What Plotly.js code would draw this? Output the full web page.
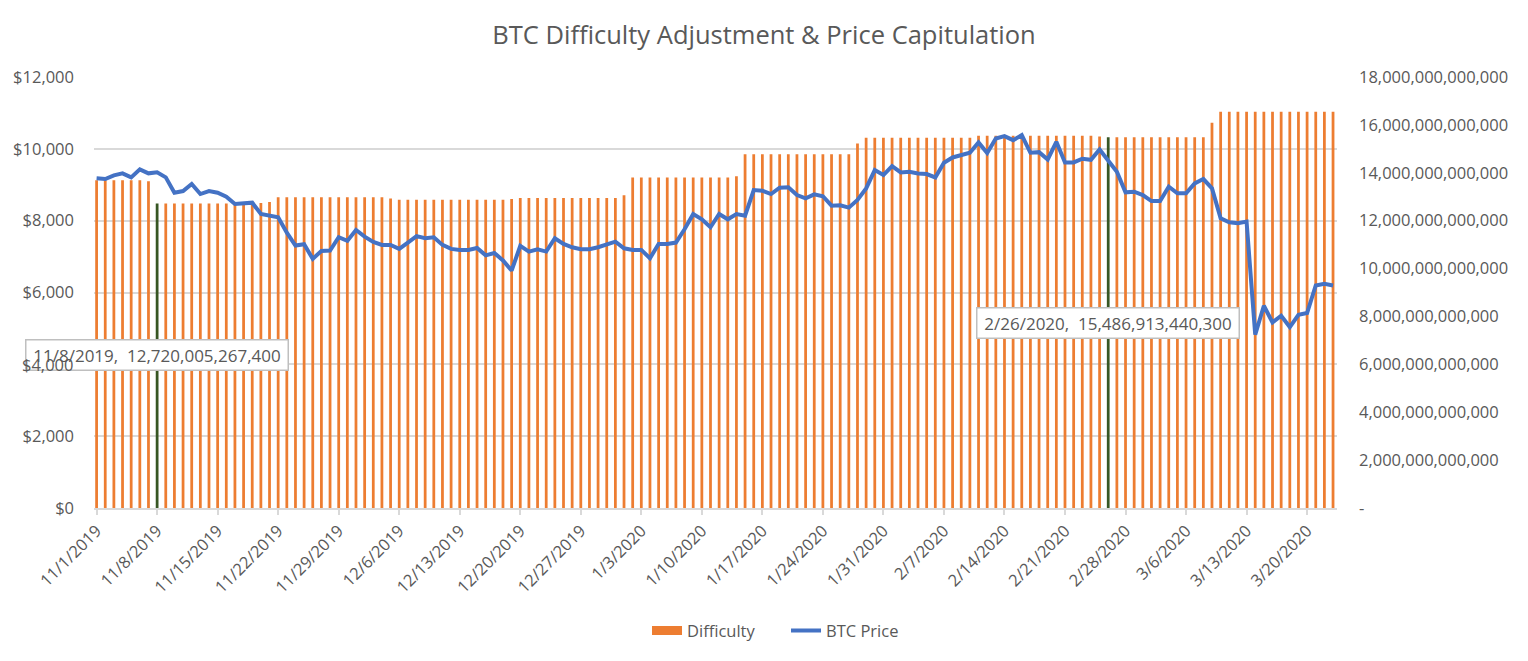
<!DOCTYPE html>
<html>
<head>
<meta charset="utf-8">
<script src="https://cdn.plot.ly/plotly-3.0.1.min.js"></script>
<style>html,body{margin:0;padding:0;background:#fff;}#chart{width:1528px;height:661px;}</style>
</head>
<body>
<div id="chart"></div>
<script>
// ---- data ----
const dates = [
'2019-11-01','2019-11-02','2019-11-03','2019-11-04','2019-11-05','2019-11-06','2019-11-07','2019-11-08','2019-11-09','2019-11-10',
'2019-11-11','2019-11-12','2019-11-13','2019-11-14','2019-11-15','2019-11-16','2019-11-17','2019-11-18','2019-11-19','2019-11-20',
'2019-11-21','2019-11-22','2019-11-23','2019-11-24','2019-11-25','2019-11-26','2019-11-27','2019-11-28','2019-11-29','2019-11-30',
'2019-12-01','2019-12-02','2019-12-03','2019-12-04','2019-12-05','2019-12-06','2019-12-07','2019-12-08','2019-12-09','2019-12-10',
'2019-12-11','2019-12-12','2019-12-13','2019-12-14','2019-12-15','2019-12-16','2019-12-17','2019-12-18','2019-12-19','2019-12-20',
'2019-12-21','2019-12-22','2019-12-23','2019-12-24','2019-12-25','2019-12-26','2019-12-27','2019-12-28','2019-12-29','2019-12-30',
'2019-12-31','2020-01-01','2020-01-02','2020-01-03','2020-01-04','2020-01-05','2020-01-06','2020-01-07','2020-01-08','2020-01-09',
'2020-01-10','2020-01-11','2020-01-12','2020-01-13','2020-01-14','2020-01-15','2020-01-16','2020-01-17','2020-01-18','2020-01-19',
'2020-01-20','2020-01-21','2020-01-22','2020-01-23','2020-01-24','2020-01-25','2020-01-26','2020-01-27','2020-01-28','2020-01-29',
'2020-01-30','2020-01-31','2020-02-01','2020-02-02','2020-02-03','2020-02-04','2020-02-05','2020-02-06','2020-02-07','2020-02-08',
'2020-02-09','2020-02-10','2020-02-11','2020-02-12','2020-02-13','2020-02-14','2020-02-15','2020-02-16','2020-02-17','2020-02-18',
'2020-02-19','2020-02-20','2020-02-21','2020-02-22','2020-02-23','2020-02-24','2020-02-25','2020-02-26','2020-02-27','2020-02-28',
'2020-02-29','2020-03-01','2020-03-02','2020-03-03','2020-03-04','2020-03-05','2020-03-06','2020-03-07','2020-03-08','2020-03-09',
'2020-03-10','2020-03-11','2020-03-12','2020-03-13','2020-03-14','2020-03-15','2020-03-16','2020-03-17','2020-03-18','2020-03-19',
'2020-03-20','2020-03-21','2020-03-22','2020-03-23'
];

const difficulty = [
13691480038694,13691480038694,13691480038694,13691480038694,13691480038694,13691480038694,13650000000000,
12720005267400,12720005267400,12720005267400,12720005267400,12720005267400,12720005267400,12720005267400,12720005267400,12720005267400,12720005267400,12720005267400,12720005267400,
12740000000000,12780000000000,
12973235968799,12973235968799,12973235968799,12973235968799,12973235968799,12973235968799,12973235968799,12973235968799,12973235968799,12973235968799,12973235968799,12973235968799,12973235968799,
12930000000000,
12876842089682,12876842089682,12876842089682,12876842089682,12876842089682,12876842089682,12876842089682,12876842089682,12876842089682,12876842089682,12876842089682,12876842089682,12876842089682,
12900000000000,
12950000000000,12950000000000,12950000000000,12950000000000,12950000000000,12950000000000,12950000000000,12950000000000,12950000000000,12950000000000,12950000000000,12950000000000,
13060000000000,
13798783827516,13798783827516,13798783827516,13798783827516,13798783827516,13798783827516,13798783827516,13798783827516,13798783827516,13798783827516,13798783827516,13798783827516,
13860000000000,
14776367535688,14776367535688,14776367535688,14776367535688,14776367535688,14776367535688,14776367535688,14776367535688,14776367535688,14776367535688,14776367535688,14776367535688,14776367535688,
15220000000000,
15466098935554,15466098935554,15466098935554,15466098935554,15466098935554,15466098935554,15466098935554,15466098935554,15466098935554,15466098935554,15466098935554,15466098935554,15466098935554,
15546745765549,15546745765549,15546745765549,15546745765549,15546745765549,15546745765549,15546745765549,15546745765549,15546745765549,15546745765549,15546745765549,15546745765549,15546745765549,15546745765549,
15520000000000,
15486913440300,
15486913440300,15486913440300,15486913440300,15486913440300,15486913440300,15486913440300,15486913440300,15486913440300,15486913440300,15486913440300,15486913440300,
16090000000000,
16552923967337,16552923967337,16552923967337,16552923967337,16552923967337,16552923967337,16552923967337,16552923967337,16552923967337,16552923967337,16552923967337,16552923967337,16552923967337,16552923967337
];

const btcPrice = [
9178,9160,9262,9317,9206,9428,9317,9345,9206,8779,
8825,9020,8742,8825,8779,8668,8464,8483,8501,8186,
8131,8094,7667,7306,7343,6936,7158,7167,7538,7436,
7742,7556,7408,7325,7325,7214,7390,7570,7510,7538,
7325,7214,7186,7186,7241,7034,7099,6895,6612,7297,
7140,7205,7140,7510,7353,7260,7205,7205,7260,7325,
7417,7232,7186,7186,6954,7353,7353,7390,7760,8186,
8038,7816,8186,8038,8186,8140,8853,8834,8742,8918,
8927,8714,8621,8732,8681,8418,8427,8362,8575,8899,
9408,9269,9519,9343,9362,9316,9297,9204,9612,9760,
9825,9890,10177,9881,10288,10353,10242,10381,9890,9908,
9704,10196,9621,9621,9723,9695,9982,9686,9362,8788,
8806,8714,8547,8547,8945,8760,8760,9038,9158,8899,
8067,7956,7928,7974,4825,5631,5168,5353,5038,5381,
5427,6195,6242,6195
];

const highlightDates = ['2019-11-08','2020-02-26'];
const priceTicks = [0,2000,4000,6000,8000,10000,12000];
const difficultyTicks = [0,2e12,4e12,6e12,8e12,10e12,12e12,14e12,16e12,18e12];

// ---- styling ----
const TXT = '#595959';
const FONT = 'Open Sans, Liberation Sans, Arial, sans-serif';
const ORANGE = '#ED7D31';
const GREEN = '#375623';
const BLUE = '#4472C4';
const GRID = '#D9D9D9';

const barColors = dates.map(d => highlightDates.includes(d) ? GREEN : ORANGE);

function fmtDate(s){const p=s.split('-');return (+p[1])+'/'+(+p[2])+'/'+p[0];}
function fmtNum(v){return Math.round(v).toLocaleString('en-US');}

const traces = [
  // legend key only (wide orange swatch like the original legend)
  {type:'scatter', mode:'lines', name:'Difficulty', x:[null], y:[null], yaxis:'y',
   line:{color:ORANGE, width:9}, hoverinfo:'skip'},
  {type:'bar', name:'Difficulty', x:dates, y:difficulty, yaxis:'y', showlegend:false,
   marker:{color:barColors, line:{width:0}}, hoverinfo:'x+y'},
  {type:'scatter', mode:'lines', name:'BTC Price', x:dates, y:btcPrice, yaxis:'y2',
   line:{color:BLUE, width:4}}
];

const annotations = highlightDates.map((d,i) => {
  const idx = dates.indexOf(d);
  return {
    xref:'x', x:d, yref:'paper', y:[0.354,0.430][i], yanchor:'middle', xanchor:'center',
    text: fmtDate(d) + ',&nbsp;&nbsp;' + fmtNum(difficulty[idx]),
    showarrow:false, bgcolor:'#FFFFFF', bordercolor:'#BFBFBF', borderwidth:1.5, borderpad:3,
    width:255, font:{family:FONT, size:17, color:TXT}
  };
});
// $4,000 label sits on top of the data-label box in the original
annotations.push({xref:'paper', x:0, xanchor:'right', xshift:-19, yref:'y2', y:4000, yanchor:'middle',
  text:'$4,000', showarrow:false, font:{family:FONT, size:16.5, color:TXT}});

const layout = {
  width:1528, height:661,
  margin:{l:94, r:191, t:77, b:153},
  paper_bgcolor:'#FFFFFF', plot_bgcolor:'#FFFFFF',
  font:{family:FONT, color:TXT, size:16.5},
  title:{text:'BTC Difficulty Adjustment &amp; Price Capitulation', x:0.5, xref:'container', xanchor:'center',
         y:1-35/661, yref:'container', yanchor:'middle', font:{family:FONT, size:25.5, color:TXT}},
  bargap:0.68,
  showlegend:true,
  legend:{orientation:'h', x:0.4449, xanchor:'left', y:-0.285, yanchor:'middle',
          entrywidth:94, entrywidthmode:'pixels',
          font:{family:FONT, size:16.5, color:TXT}, bgcolor:'rgba(0,0,0,0)'},
  xaxis:{type:'date', range:['2019-10-31 16:48','2020-03-23 11:00'],
         tick0:'2019-11-01', dtick:7*86400000, tickformat:'%-m/%-d/%Y', tickangle:-45,
         ticks:'outside', ticklen:5, tickcolor:GRID, tickwidth:1.5,
         showline:true, linecolor:GRID, linewidth:1.5, showgrid:false, zeroline:false,
         tickfont:{family:FONT, size:16.5, color:TXT}},
  yaxis:{side:'right', range:[0,18e12], tickvals:difficultyTicks,
         ticktext:difficultyTicks.map(v => v===0 ? '-' : fmtNum(v)),
         showgrid:false, zeroline:false, showline:false, ticks:'', ticklabelstandoff:21,
         tickfont:{family:FONT, size:16.5, color:TXT}},
  yaxis2:{overlaying:'y', side:'left', range:[0,12000], tickvals:priceTicks,
          ticktext:priceTicks.map(v => v===4000 ? '' : '$'+fmtNum(v)),
          showgrid:true, gridcolor:GRID, gridwidth:1.5, zeroline:false, showline:false, ticks:'',
          ticklabelstandoff:19, tickfont:{family:FONT, size:16.5, color:TXT}},
  annotations:annotations
};

Plotly.newPlot('chart', traces, layout, {displayModeBar:false, responsive:false});
</script>
</body>
</html>
